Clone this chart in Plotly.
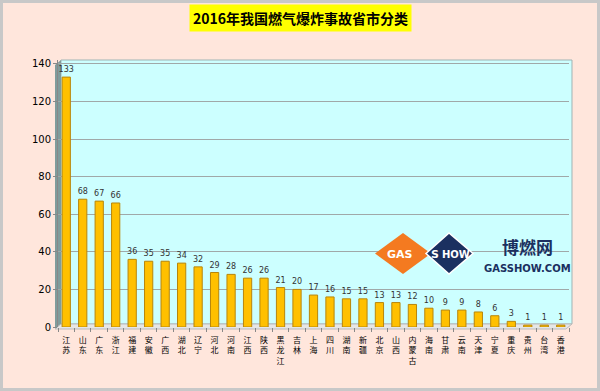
import plotly.graph_objects as go

categories = ["江苏", "山东", "广东", "浙江", "福建", "安徽", "广西", "湖北", "辽宁", "河北",
              "河南", "江西", "陕西", "黑龙江", "吉林", "上海", "四川", "湖南", "新疆", "北京",
              "山西", "内蒙古", "海南", "甘肃", "云南", "天津", "宁夏", "重庆", "贵州", "台湾", "香港"]
values = [133, 68, 67, 66, 36, 35, 35, 34, 32, 29, 28, 26, 26, 21, 20, 17, 16, 15, 15, 13,
          13, 12, 10, 9, 9, 8, 6, 3, 1, 1, 1]
y_ticks = [0, 20, 40, 60, 80, 100, 120, 140]
title_text = "2016年我国燃气爆炸事故省市分类"

W, H = 600, 391
L, R, T, B = 58, 31, 60, 64
PW, PH = W - L - R, H - T - B

def px(x):
    return (x - L) / PW

def py(y):
    return (H - B - y) / PH

def path(points):
    return "M " + " L ".join(f"{px(a):.5f},{py(b):.5f}" for a, b in points) + " Z"

stacked = ["<br>".join(list(c)) for c in categories]

fig = go.Figure()
fig.add_trace(go.Bar(
    x=stacked, y=values,
    marker=dict(color="#FFC000", line=dict(color="#B8860B", width=1)),
    text=[str(v) for v in values], textposition="outside", cliponaxis=False,
    constraintext="none",
    textfont=dict(size=8, color="#333333", family="DejaVu Sans"),
    width=0.5,
))

shapes = []
# outer frame
shapes.append(dict(type="rect", xref="paper", yref="paper",
                   x0=px(1.5), x1=px(598.5), y0=py(1.5), y1=py(389.5),
                   line=dict(color="#C8C8C8", width=3), fillcolor="rgba(0,0,0,0)", layer="below"))
# back wall
shapes.append(dict(type="path", xref="paper", yref="paper",
                   path=path([(61, 60), (572, 60), (572, 324), (61, 324)]),
                   fillcolor="#CCFFFF", line=dict(color="#A0B4B4", width=1), layer="below"))
# left wall
shapes.append(dict(type="path", xref="paper", yref="paper",
                   path=path([(55, 65), (61, 60), (61, 324), (55, 329)]),
                   fillcolor="#7F9C9C", line=dict(width=0), layer="below"))
# floor
shapes.append(dict(type="path", xref="paper", yref="paper",
                   path=path([(55, 329), (61, 324), (572, 324), (566, 329)]),
                   fillcolor="#E6E6E6", line=dict(color="#BBBBBB", width=1), layer="below"))
# logo diamonds
shapes.append(dict(type="path", xref="paper", yref="paper",
                   path=path([(375, 253.5), (403, 233), (431, 253.5), (403, 274)]),
                   fillcolor="#F47A20", line=dict(width=0), layer="above"))
shapes.append(dict(type="path", xref="paper", yref="paper",
                   path=path([(426, 253.5), (449, 233), (473, 253.5), (449, 274)]),
                   fillcolor="#1B3060", line=dict(color="white", width=1.5), layer="above"))

annotations = [
    dict(text="<b>" + title_text + "</b>", xref="paper", yref="paper",
         x=px(300), y=py(18), xanchor="center", yanchor="middle", showarrow=False,
         bgcolor="#FFFF00", borderpad=3,
         font=dict(size=14, color="#000000", family="Noto Sans CJK SC")),
    dict(text="<b>GAS</b>", xref="paper", yref="paper", x=px(400), y=py(254),
         xanchor="center", yanchor="middle", showarrow=False,
         font=dict(size=11, color="white", family="DejaVu Sans")),
    dict(text="<b>S</b>", xref="paper", yref="paper", x=px(435), y=py(254),
         xanchor="center", yanchor="middle", showarrow=False,
         font=dict(size=11, color="white", family="DejaVu Sans")),
    dict(text="<b>HOW</b>", xref="paper", yref="paper", x=px(456), y=py(254),
         xanchor="center", yanchor="middle", showarrow=False,
         font=dict(size=10, color="white", family="DejaVu Sans")),
    dict(text="<b>博燃网</b>", xref="paper", yref="paper", x=px(527), y=py(247),
         xanchor="center", yanchor="middle", showarrow=False,
         font=dict(size=17, color="#1B3060", family="Noto Sans CJK SC")),
    dict(text="<b>GASSHOW.COM</b>", xref="paper", yref="paper", x=px(527), y=py(268),
         xanchor="center", yanchor="middle", showarrow=False,
         font=dict(size=10, color="#1B3060", family="DejaVu Sans")),
]

fig.update_layout(
    width=W, height=H,
    margin=dict(l=L, r=R, t=T, b=B),
    paper_bgcolor="#FFE6DC",
    plot_bgcolor="rgba(0,0,0,0)",
    showlegend=False,
    shapes=shapes,
    annotations=annotations,
    xaxis=dict(
        tickfont=dict(size=8, color="#000000", family="Noto Sans CJK SC"),
        ticks="outside", ticklen=4, tickcolor="#888888", tickson="boundaries",
        ticklabelstandoff=7,
        showgrid=False, showline=False, tickangle=0, fixedrange=True,
    ),
    yaxis=dict(
        range=[0, 142.1], tickvals=y_ticks,
        tickfont=dict(size=10, color="#000000", family="DejaVu Sans"),
        ticks="outside", ticklen=4, tickcolor="#888888",
        showgrid=True, gridcolor="#A0A8A8", gridwidth=1,
        zeroline=False, showline=True, linecolor="#888888",
        fixedrange=True,
    ),
)

fig.write_html("out.html", config={"displayModeBar": False},
               post_script="document.body.style.margin='0';")
